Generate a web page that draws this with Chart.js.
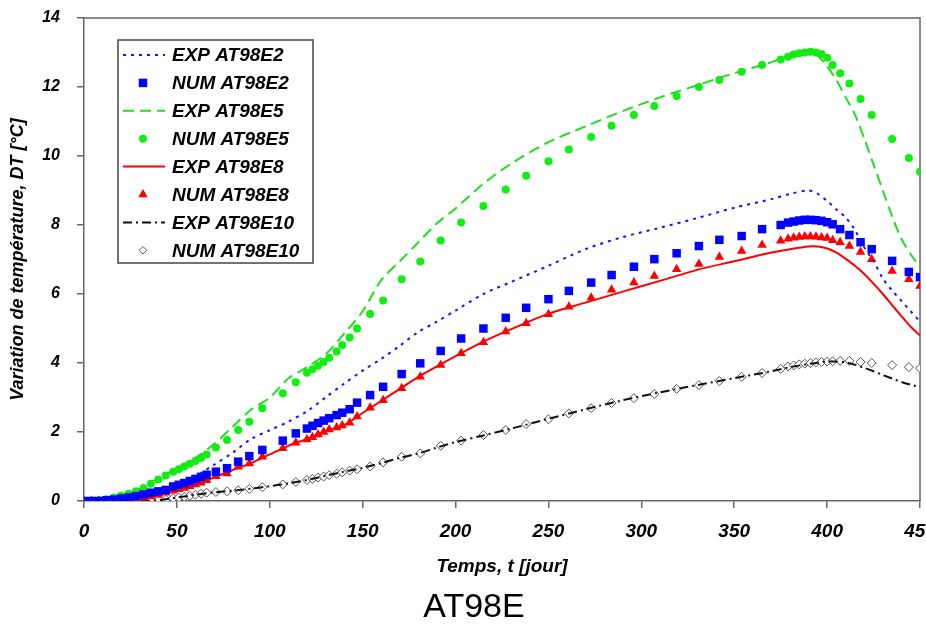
<!DOCTYPE html>
<html>
<head>
<meta charset="utf-8">
<script src="https://cdn.jsdelivr.net/npm/chart.js@4.4.1/dist/chart.umd.min.js"></script>
<style>
  html, body { margin: 0; padding: 0; background: #fff; overflow: hidden; }
  #wrap { width: 948px; height: 625px; }
</style>
</head>
<body>
<div id="wrap"><canvas id="at98Chart" width="948" height="625"></canvas></div>
<script>
// temps des mesures (EXP) et des pas de calcul (NUM), en jours
const expT = [0, 10, 20, 30, 40, 50, 60, 70, 80, 90, 100, 110, 120, 130, 140, 150, 160, 170, 180, 190, 200,
  215, 230, 250, 270, 290, 310, 330, 350, 370, 380, 390,
  395, 400, 405, 410, 415, 420, 425, 430, 435, 440, 445, 450];

const numT = [0, 4, 8, 12, 16, 20, 24, 28, 32, 36, 40, 44,
  48, 51, 54, 57, 60, 63, 66,
  71, 77, 83, 89, 96,
  107, 114,
  120, 123, 126, 129, 132,
  136, 139, 143, 147,
  154, 161, 171, 181, 192,
  203, 215, 227, 238, 250,
  261, 273, 284, 296, 307,
  319, 331, 342, 354, 365,
  375, 379, 382, 385, 388,
  391, 394, 397, 400, 403,
  407, 412, 418, 424, 435,
  444, 450];

// DT [°C] mesuré
const expE2 = [0, 0, 0.05, 0.18, 0.3, 0.5, 0.72, 1.05, 1.4, 1.8, 2.05, 2.3, 2.6, 3.0, 3.4, 3.78, 4.12, 4.5, 4.9, 5.2, 5.52,
  6.0, 6.35, 6.82, 7.3, 7.65, 7.92, 8.2, 8.5, 8.75, 8.9, 9.0,
  8.9, 8.7, 8.45, 8.22, 7.85, 7.35, 6.95, 6.45, 6.1, 5.8, 5.5, 5.2];
const expE5 = [0, 0.02, 0.12, 0.35, 0.65, 0.95, 1.25, 1.65, 2.15, 2.65, 3.0, 3.55, 3.88, 4.25, 4.85, 5.5, 6.4, 6.95, 7.5, 8.05, 8.48,
  9.2, 9.78, 10.4, 10.86, 11.3, 11.7, 12.05, 12.4, 12.72, 12.93, 13.05,
  12.9, 12.6, 12.2, 11.7, 11.2, 10.5, 9.75, 9.0, 8.25, 7.6, 7.15, 6.78];
const expE8 = [0, 0, 0.03, 0.1, 0.2, 0.32, 0.45, 0.68, 0.9, 1.1, 1.35, 1.6, 1.8, 2.02, 2.2, 2.55, 2.9, 3.25, 3.6, 3.9, 4.2,
  4.62, 4.98, 5.43, 5.75, 6.07, 6.38, 6.7, 6.95, 7.2, 7.3, 7.38,
  7.38, 7.32, 7.2, 7.02, 6.82, 6.58, 6.3, 6.0, 5.68, 5.36, 5.05, 4.8];
const expE10 = [0, 0, 0, 0, 0.02, 0.1, 0.18, 0.25, 0.3, 0.36, 0.43, 0.51, 0.61, 0.73, 0.85, 0.96, 1.1, 1.25, 1.38, 1.55, 1.71,
  1.9, 2.1, 2.38, 2.66, 2.92, 3.15, 3.36, 3.56, 3.76, 3.88, 3.97,
  4.01, 4.04, 4.04, 4.02, 3.95, 3.86, 3.76, 3.65, 3.55, 3.45, 3.37, 3.3];

// DT [°C] calculé
const numE2 = [0, 0, 0, 0.02, 0.04, 0.07, 0.1, 0.14, 0.19, 0.24, 0.28, 0.32,
  0.42, 0.47, 0.52, 0.58, 0.64, 0.7, 0.76,
  0.85, 0.95, 1.14, 1.3, 1.48,
  1.75, 1.96,
  2.1, 2.18, 2.26, 2.33, 2.4,
  2.49, 2.56, 2.66, 2.85,
  3.07, 3.31, 3.68, 3.99, 4.35,
  4.71, 5.0, 5.31, 5.6, 5.85,
  6.09, 6.33, 6.55, 6.79, 7.01,
  7.18, 7.39, 7.57, 7.68, 7.88,
  8.0, 8.07, 8.1, 8.13, 8.15,
  8.15, 8.14, 8.12, 8.08, 8.02,
  7.88, 7.71, 7.5, 7.3, 6.96,
  6.64, 6.49];
const numE5 = [0, 0, 0.02, 0.05, 0.1, 0.15, 0.21, 0.28, 0.38, 0.5, 0.62, 0.74,
  0.85, 0.92, 1.0, 1.08, 1.16, 1.25, 1.35,
  1.55, 1.77, 2.06, 2.3, 2.69,
  3.12, 3.44,
  3.72, 3.82, 3.92, 4.03, 4.15,
  4.33, 4.52, 4.74, 5.0,
  5.42, 5.81, 6.43, 6.94, 7.55,
  8.07, 8.55, 9.03, 9.43, 9.85,
  10.19, 10.55, 10.88, 11.19, 11.45,
  11.74, 12.0, 12.2, 12.44, 12.64,
  12.8, 12.88, 12.94, 12.98, 13.0,
  13.02, 13.0, 12.96, 12.85, 12.64,
  12.4, 12.1, 11.65, 11.19, 10.49,
  9.94, 9.54];
const numE8 = [0, 0, 0, 0.01, 0.02, 0.04, 0.06, 0.08, 0.1, 0.13, 0.18, 0.24,
  0.3, 0.34, 0.38, 0.43, 0.48, 0.53, 0.6,
  0.72, 0.8, 0.99, 1.09, 1.28,
  1.53, 1.69,
  1.78, 1.85, 1.93, 2.0, 2.07,
  2.13, 2.19, 2.27, 2.45,
  2.7, 2.92, 3.27, 3.6, 3.94,
  4.28, 4.6, 4.91, 5.15, 5.41,
  5.63, 5.89, 6.12, 6.33, 6.52,
  6.72, 6.87, 7.07, 7.25, 7.42,
  7.54, 7.6, 7.63, 7.65, 7.67,
  7.67, 7.66, 7.64, 7.62, 7.56,
  7.5, 7.39, 7.22, 7.01, 6.67,
  6.43, 6.23];
const numE10 = [0, 0, 0, 0, 0, 0, 0, 0, 0, 0.01, 0.02, 0.04,
  0.08, 0.1, 0.12, 0.15, 0.18, 0.21, 0.24,
  0.26, 0.28, 0.31, 0.35, 0.4,
  0.48, 0.55,
  0.61, 0.64, 0.68, 0.71, 0.75,
  0.79, 0.83, 0.88, 0.92,
  1.0, 1.12, 1.28, 1.38, 1.6,
  1.75, 1.91, 2.06, 2.23, 2.37,
  2.54, 2.69, 2.84, 2.98, 3.1,
  3.25, 3.36, 3.48, 3.6, 3.71,
  3.83, 3.9, 3.93, 3.96, 3.98,
  4.0, 4.02, 4.03, 4.04, 4.05,
  4.06, 4.06, 4.03, 4.0, 3.94,
  3.88, 3.85];

const xTicks = [0, 50, 100, 150, 200, 250, 300, 350, 400, 450];
const yTicks = [0, 2, 4, 6, 8, 10, 12, 14];

const FONT = "'Liberation Sans', Arial, sans-serif";
const AXIS = '#666';

const pairs = (ts, vs) => ts.map((t, i) => ({ x: t, y: vs[i] }));

function expLine(label, values, color, dash) {
  return {
    label: label,
    data: pairs(expT, values),
    borderColor: color,
    backgroundColor: color,
    borderWidth: 2,
    borderDash: dash,
    pointRadius: 0,
    tension: 0.3,
    fill: false,
  };
}

function numPoints(label, values, style, radius, fillColor, lineColor, lineWidth) {
  return {
    label: label,
    data: pairs(numT, values),
    showLine: false,
    pointStyle: style,
    pointRadius: radius,
    pointBackgroundColor: fillColor,
    pointBorderColor: lineColor,
    pointBorderWidth: lineWidth,
    backgroundColor: fillColor,
    borderColor: lineColor,
  };
}

const datasets = [
  expLine('EXP AT98E2', expE2, '#1414ff', [3, 5]),
  numPoints('NUM AT98E2', numE2, 'rect', 6, '#0000ff', '#0000ff', 0),
  expLine('EXP AT98E5', expE5, '#22dd22', [11, 6]),
  numPoints('NUM AT98E5', numE5, 'circle', 4, '#11ee11', '#11ee11', 0),
  expLine('EXP AT98E8', expE8, '#ff0000', []),
  numPoints('NUM AT98E8', numE8, 'triangle', 5.5, '#ff0000', '#ff0000', 0),
  expLine('EXP AT98E10', expE10, '#111111', [9, 4, 2, 4]),
  numPoints('NUM AT98E10', numE10, 'rectRot', 4.5, '#ffffff', '#555555', 1),
];

// cadre du graphe (haut + droite) et légende encadrée dans la zone de tracé
const framePlugin = {
  id: 'frame',
  beforeDatasetsDraw(chart) {
    const { ctx, chartArea: a } = chart;
    ctx.save();
    ctx.strokeStyle = AXIS;
    ctx.lineWidth = 1.5;
    ctx.beginPath();
    ctx.moveTo(a.left, a.top);
    ctx.lineTo(a.right, a.top);
    ctx.lineTo(a.right, a.bottom);
    ctx.stroke();
    ctx.restore();
  },
  afterDraw(chart) {
    const ctx = chart.ctx;
    const box = { x: 118, y: 40, w: 195, h: 223 };
    ctx.save();
    ctx.fillStyle = '#fff';
    ctx.fillRect(box.x, box.y, box.w, box.h);
    ctx.strokeStyle = '#444';
    ctx.lineWidth = 1.5;
    ctx.strokeRect(box.x, box.y, box.w, box.h);

    chart.data.datasets.forEach((ds, i) => {
      const y = 55 + i * 27.9;
      if (ds.showLine === false) {
        ctx.fillStyle = ds.pointBackgroundColor;
        ctx.strokeStyle = ds.pointBorderColor;
        ctx.lineWidth = ds.pointBorderWidth;
        Chart.helpers.drawPoint(ctx, {
          pointStyle: ds.pointStyle,
          radius: ds.pointStyle === 'rectRot' ? 3.8 : ds.pointRadius,
          rotation: 0,
          borderWidth: ds.pointBorderWidth,
        }, 143, y);
      } else {
        ctx.strokeStyle = ds.borderColor;
        ctx.lineWidth = 2;
        ctx.setLineDash(ds.borderDash);
        ctx.beginPath();
        ctx.moveTo(123, y);
        ctx.lineTo(165, y);
        ctx.stroke();
        ctx.setLineDash([]);
      }
      ctx.fillStyle = '#000';
      ctx.font = `italic bold 19px ${FONT}`;
      ctx.textBaseline = 'middle';
      ctx.textAlign = 'left';
      ctx.fillText(ds.label, 172, y + 1);
    });
    ctx.restore();
  },
};

const config = {
  type: 'line',
  data: { datasets: datasets },
  options: {
    responsive: false,
    devicePixelRatio: 1,
    animation: false,
    events: [],
    layout: { padding: { top: 18, left: 0, right: 0, bottom: 0 } },
    scales: {
      x: {
        type: 'linear',
        min: 0,
        max: 450,
        afterBuildTicks: (scale) => {
          scale.ticks = xTicks.map((v) => ({ value: v }));
        },
        afterFit: (scale) => {
          scale.height = 80;
          scale.paddingLeft = 0;
          scale.paddingRight = 28; // le « 450 » déborde du cadre à droite
        },
        border: { display: true, color: AXIS, width: 1.5 },
        grid: { display: true, drawOnChartArea: false, drawTicks: true, tickLength: 7, color: AXIS, lineWidth: 1.5 },
        ticks: {
          color: '#000',
          padding: 12,
          maxRotation: 0,
          font: { family: FONT, size: 19, weight: 'bold', style: 'italic' },
        },
        title: {
          display: true,
          text: 'Temps, t [jour]',
          color: '#000',
          padding: { top: 0, bottom: 3 },
          font: { family: FONT, size: 19, weight: 'bold', style: 'italic' },
        },
      },
      y: {
        type: 'linear',
        min: 0,
        max: 14,
        afterBuildTicks: (scale) => {
          scale.ticks = yTicks.map((v) => ({ value: v }));
        },
        afterFit: (scale) => {
          scale.width = 84;
          scale.paddingTop = 0;
          scale.paddingBottom = 0;
        },
        border: { display: true, color: AXIS, width: 1.5 },
        grid: { display: true, drawOnChartArea: false, drawTicks: true, tickLength: 7, color: AXIS, lineWidth: 1.5 },
        ticks: {
          color: '#000',
          padding: 17,
          font: { family: FONT, size: 16, weight: 'bold', style: 'italic' },
        },
        title: {
          display: true,
          text: 'Variation de température, DT [°C]',
          color: '#000',
          padding: { top: 7, bottom: 0 },
          font: { family: FONT, size: 18, weight: 'bold', style: 'italic' },
        },
      },
    },
    plugins: {
      legend: { display: false },
      tooltip: { enabled: false },
      title: {
        display: true,
        position: 'bottom',
        text: 'AT98E',
        color: '#000',
        padding: { top: 10, bottom: 0 },
        font: { family: FONT, size: 34, weight: 'normal', lineHeight: 1.0 },
      },
    },
  },
  plugins: [framePlugin],
};

new Chart(document.getElementById('at98Chart'), config);
</script>
</body>
</html>
